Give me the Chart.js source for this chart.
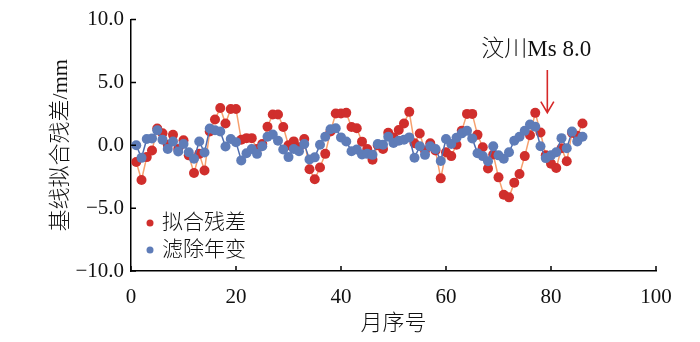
<!DOCTYPE html>
<html>
<head>
<meta charset="utf-8">
<script src="https://cdn.jsdelivr.net/npm/chart.js@4/dist/chart.umd.min.js"></script>
<style>
  html, body { margin: 0; padding: 0; background: #fff; }
  #wrap { width: 700px; height: 342px; }
</style>
</head>
<body>
<div id="wrap"><canvas id="resid-chart" width="700" height="342"></canvas></div>
<script>
// month index (1..86)
const months = Array.from({ length: 86 }, (_, i) => i + 1);

// 拟合残差 (mm)
const fitResidual = [
  -1.33, -2.76, -0.94, -0.42, 1.33, 0.96, 0.05, 0.83, -0.3, 0.4,
  -0.8, -2.2, -0.68, -2.0, 1.1, 2.05, 2.97, 1.74, 2.89, 2.89,
  0.44, 0.57, 0.57, -0.3, 0.1, 1.48, 2.45, 2.45, 1.45, 0.0,
  0.31, -0.15, 0.5, -1.9, -2.7, -1.77, -0.68, 1.1, 2.53, 2.53,
  2.58, 1.45, 1.35, 0.29, -0.29, -1.15, 0.0, -0.29, 1.0, 0.63,
  1.22, 1.74, 2.66, 0.16, 0.94, -0.42, 0.16, -0.42, -2.63, -0.55,
  -0.86, 0.05, 1.15, 2.5, 2.5, 0.83, -0.16, -1.85, -0.73, -2.55,
  -3.93, -4.14, -2.97, -2.29, -0.86, 0.8, 2.58, 1.02, -0.8, -1.46,
  -1.8, -0.23, -1.27, 1.0, 0.76, 1.74
];

// 滤除年变 (mm)
const deseasoned = [
  0.0, -1.0, 0.5, 0.55, 1.2, 0.45, -0.3, 0.3, -0.5, 0.1,
  -0.55, -1.07, 0.3, -0.57, 1.33, 1.2, 1.1, -0.1, 0.5, 0.25,
  -1.2, -0.63, -0.29, -0.68, -0.08, 0.68, 0.86, 0.36, -0.34, -0.94,
  -0.29, -0.47, 0.1, -1.12, -0.96, 0.05, 0.68, 1.27, 1.35, 0.63,
  0.3, -0.47, -0.34, -0.73, -0.68, -0.76, 0.1, 0.05, 0.68, 0.18,
  0.36, 0.44, 0.63, -0.99, -0.08, -0.76, -0.08, -0.29, -1.25, 0.5,
  0.1, 0.6, 0.95, 1.15, 0.55, -0.63, -0.86, -1.27, -0.08, -0.8,
  -1.07, -0.55, 0.36, 0.68, 1.15, 1.66, 1.48, -0.08, -1.02, -0.8,
  -0.55, 0.57, -0.23, 1.09, 0.31, 0.68
];

const xTicks = [0, 20, 40, 60, 80, 100];
const yTicks = [-10, -5, 0, 5, 10];

// earthquake marker
const quakeLabel = '汶川Ms 8.0';
const quakeMonth = 79.3;

const SERIF = "'Liberation Serif', 'Times New Roman', 'Noto Sans CJK SC', serif";
const CJK = "'Liberation Serif', 'Noto Sans CJK SC', serif";

const RED = 'rgb(208, 46, 44)';
const RED_LINE = 'rgb(246, 160, 110)';
const BLUE = 'rgb(94, 124, 184)';
const BLUE_LINE = 'rgb(78, 108, 176)';

function fmt(v) {
  const s = Math.abs(v).toFixed(1);
  return v < 0 ? '\u2212' + s : s;
}

// inward tick marks, legend and quake arrow
const extras = {
  id: 'extras',
  afterDraw(chart) {
    const ctx = chart.ctx;
    const xs = chart.scales.x, ys = chart.scales.y;
    const area = chart.chartArea;
    ctx.save();
    ctx.strokeStyle = '#000';
    ctx.lineWidth = 1.5;
    ctx.beginPath();
    yTicks.forEach(v => {
      const py = ys.getPixelForValue(v);
      ctx.moveTo(area.left, py);
      ctx.lineTo(area.left + 5, py);
    });
    xTicks.forEach(v => {
      const px = xs.getPixelForValue(v);
      ctx.moveTo(px, area.bottom);
      ctx.lineTo(px, area.bottom - 5);
    });
    ctx.stroke();

    // legend
    const items = [
      { label: '拟合残差', color: RED, y: 223 },
      { label: '滤除年变', color: BLUE, y: 250 }
    ];
    ctx.font = "300 21px " + CJK;
    ctx.textBaseline = 'middle';
    ctx.textAlign = 'left';
    items.forEach(it => {
      ctx.fillStyle = it.color;
      ctx.beginPath();
      ctx.arc(150, it.y, 3.5, 0, Math.PI * 2);
      ctx.fill();
      ctx.fillStyle = '#111';
      ctx.fillText(it.label, 162, it.y);
    });

    // quake arrow
    const ax = xs.getPixelForValue(quakeMonth);
    const top = ys.getPixelForValue(6.0);
    const tip = ys.getPixelForValue(2.6);
    ctx.strokeStyle = 'rgb(214, 40, 40)';
    ctx.lineWidth = 1.6;
    ctx.beginPath();
    ctx.moveTo(ax, top);
    ctx.lineTo(ax, tip);
    ctx.moveTo(ax - 6.5, tip - 11);
    ctx.lineTo(ax, tip);
    ctx.lineTo(ax + 6.5, tip - 11);
    ctx.stroke();

    ctx.fillStyle = '#111';
    ctx.font = "300 23px " + CJK;
    ctx.textAlign = 'center';
    ctx.fillText(quakeLabel, ax - 11, ys.getPixelForValue(7.55));
    ctx.restore();
  }
};

const ctx = document.getElementById('resid-chart').getContext('2d');
new Chart(ctx, {
  type: 'line',
  data: {
    datasets: [
      {
        label: '滤除年变',
        data: months.map((m, i) => ({ x: m, y: deseasoned[i] })),
        borderColor: BLUE_LINE,
        borderWidth: 1.5,
        backgroundColor: BLUE,
        pointBackgroundColor: BLUE,
        pointBorderWidth: 0,
        pointRadius: 5,
        tension: 0,
        order: 0
      },
      {
        label: '拟合残差',
        data: months.map((m, i) => ({ x: m, y: fitResidual[i] })),
        borderColor: RED_LINE,
        borderWidth: 1.5,
        backgroundColor: RED,
        pointBackgroundColor: RED,
        pointBorderWidth: 0,
        pointRadius: 5,
        tension: 0,
        order: 1
      }
    ]
  },
  options: {
    responsive: false,
    animation: false,
    layout: { padding: { top: 15, right: 44, left: 0, bottom: 0 } },
    plugins: {
      legend: { display: false },
      tooltip: { enabled: false }
    },
    scales: {
      x: {
        type: 'linear',
        min: 0,
        max: 100,
        afterFit(axis) { axis.height = 71; },
        afterBuildTicks(axis) { axis.ticks = xTicks.map(v => ({ value: v })); },
        grid: { display: false, drawTicks: false },
        border: { display: true, color: '#000', width: 1.5 },
        ticks: {
          color: '#111',
          padding: 14,
          maxRotation: 0,
          font: { family: SERIF, size: 21 }
        },
        title: {
          display: true,
          text: '月序号',
          color: '#111',
          font: { family: CJK, size: 22, weight: 300 },
          padding: { top: 0, bottom: 5 }
        }
      },
      y: {
        min: -10,
        max: 10,
        afterFit(axis) { axis.width = 131; },
        afterBuildTicks(axis) { axis.ticks = yTicks.map(v => ({ value: v })); },
        grid: { display: false, drawTicks: false },
        border: { display: true, color: '#000', width: 1.5 },
        ticks: {
          color: '#111',
          padding: 7,
          font: { family: SERIF, size: 21 },
          callback: v => fmt(v)
        },
        title: {
          display: true,
          text: '基线拟合残差/mm',
          color: '#111',
          font: { family: CJK, size: 22, weight: 300 },
          padding: { top: 48, bottom: 0 }
        }
      }
    }
  },
  plugins: [extras]
});
</script>
</body>
</html>
